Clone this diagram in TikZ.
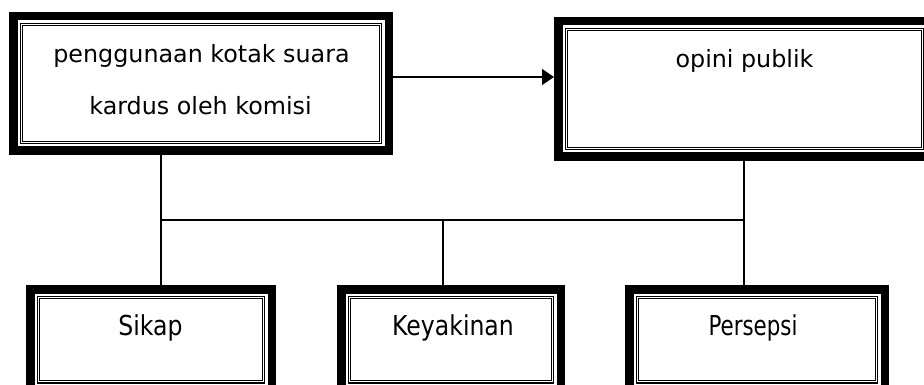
\documentclass[tikz,border=0pt]{standalone}
\usepackage{fontspec}
\setmainfont{DejaVu Sans}
\usetikzlibrary{arrows.meta}
\begin{document}
\begin{tikzpicture}[x=1pt,y=-1pt,
  framebox/.style={rectangle, inner sep=0pt, outer sep=0pt, fill=white,
    path picture={
      \draw[line width=8.5pt] ([shift={(4.25pt,-4.25pt)}]path picture bounding box.north west) rectangle ([shift={(-4.25pt,4.25pt)}]path picture bounding box.south east);
      \draw[line width=1.2pt] ([shift={(11.5pt,-11.5pt)}]path picture bounding box.north west) rectangle ([shift={(-11.5pt,11.5pt)}]path picture bounding box.south east);
      \draw[line width=1pt] ([shift={(13.7pt,-13.7pt)}]path picture bounding box.north west) rectangle ([shift={(-13.7pt,13.7pt)}]path picture bounding box.south east);
    }},
  toptxt/.style={inner sep=0pt, anchor=base, font=\fontsize{23.8pt}{28pt}\selectfont},
  bottxt/.style={inner sep=0pt, anchor=base, font=\fontsize{27.4pt}{32pt}\selectfont},
  conn/.style={draw=black, line width=1.4pt}
]
\useasboundingbox (0,0) rectangle (924,385);
\clip (0,0) rectangle (924,385);
\fill[white] (0,0) rectangle (924,385);

% boxes
\node[framebox, minimum width=384pt, minimum height=143pt] (box1) at (201,83.5) {};
\node[framebox, minimum width=381pt, minimum height=144pt] (box2) at (744.5,89) {};
\node[framebox, minimum width=250pt, minimum height=109.5pt] (sikap) at (151,339.75) {};
\node[framebox, minimum width=228pt, minimum height=109.5pt] (keyakinan) at (451,339.75) {};
\node[framebox, minimum width=264pt, minimum height=109.5pt] (persepsi) at (757,339.75) {};

% texts
\node[toptxt] (t1) at (201.5,63) {penggunaan kotak suara};
\node[toptxt] (t2) at (200.5,115) {kardus oleh komisi};
\node[toptxt] (t3) at (744.5,68) {opini publik};
\node[bottxt] (t4) at (150.5,335) {\scalebox{0.86}[1]{Sikap}};
\node[bottxt] (t5) at (453,335) {\scalebox{0.86}[1]{Keyakinan}};
\node[bottxt] (t6) at (753,335) {\scalebox{0.78}[1]{Persepsi}};

% junctions
\coordinate (j1) at (161,220);
\coordinate (j2) at (744,220);
\coordinate (j3) at (443,220);

% connectors
\draw[conn, line width=1.5pt, -{Triangle[length=12pt,width=16pt]}] ([yshift=6.5pt]box1.east) -- ([yshift=12pt]box2.west);
\draw[conn] (box1.south -| j1) -- (sikap.north -| j1);
\draw[conn] (box2.south -| j2) -- (persepsi.north -| j2);
\draw[conn] (j1) -- (j2);
\draw[conn] (j3) -- (keyakinan.north -| j3);
\end{tikzpicture}
\end{document}
